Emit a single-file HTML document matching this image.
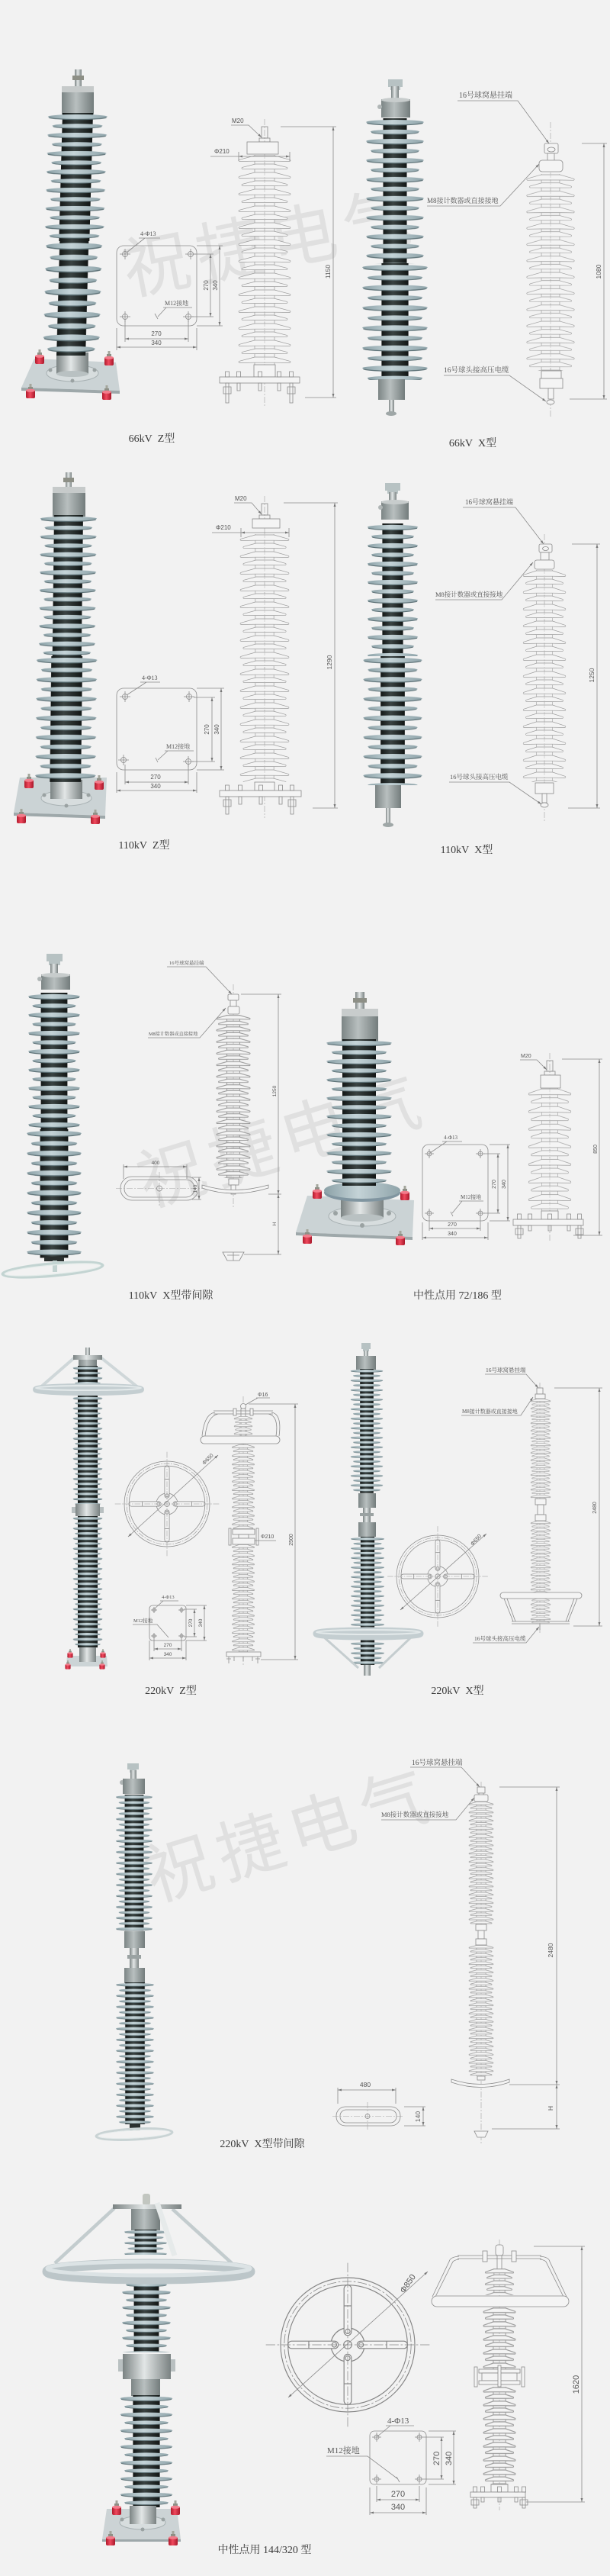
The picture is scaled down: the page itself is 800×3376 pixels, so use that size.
<!DOCTYPE html>
<html><head><meta charset="utf-8">
<style>
html,body{margin:0;padding:0;background:#f2f2f2;}
svg{display:block;}
.cap{font-family:"Liberation Serif","Noto Serif CJK SC",serif;font-size:14px;fill:#3a3a3a;text-anchor:middle;}
.dn{font-family:"Liberation Sans","Noto Sans CJK SC",sans-serif;fill:#555;}
.lb{font-family:"Liberation Serif","Noto Serif CJK SC",serif;fill:#555;}
.ln{fill:none;stroke:#8a8a8a;stroke-width:0.8;}
.lf{fill:#f4f4f4;stroke:#8a8a8a;stroke-width:0.8;}
.cl{fill:none;stroke:#a2a2a2;stroke-width:0.6;stroke-dasharray:8 2 2 2;}
.wm{font-family:"Noto Sans CJK SC","WenQuanYi Zen Hei",sans-serif;font-size:88px;fill:#e0e0e0;letter-spacing:10px;}
</style></head><body>
<svg width="800" height="3376" viewBox="0 0 800 3376" xmlns="http://www.w3.org/2000/svg">
<defs>
<linearGradient id="gc" x1="0" x2="1" y1="0" y2="0"><stop offset="0" stop-color="#131716"/><stop offset=".42" stop-color="#3a4342"/><stop offset="1" stop-color="#121615"/></linearGradient>
<linearGradient id="gs" x1="0" x2="1" y1="0" y2="0"><stop offset="0" stop-color="#8aa0a6"/><stop offset=".45" stop-color="#c4d3d7"/><stop offset="1" stop-color="#8ea3a9"/></linearGradient>
<linearGradient id="gm" x1="0" x2="1" y1="0" y2="0"><stop offset="0" stop-color="#7b8383"/><stop offset=".45" stop-color="#e2e6e6"/><stop offset="1" stop-color="#7a8282"/></linearGradient>
<linearGradient id="gg" x1="0" x2="1" y1="0" y2="0"><stop offset="0" stop-color="#7c8585"/><stop offset=".45" stop-color="#b8bfbf"/><stop offset="1" stop-color="#737c7c"/></linearGradient>
<linearGradient id="gr" x1="0" x2="1" y1="0" y2="0"><stop offset="0" stop-color="#b01a2c"/><stop offset=".45" stop-color="#f04a5e"/><stop offset="1" stop-color="#a8182a"/></linearGradient>
<marker id="ar" viewBox="0 0 10 10" refX="10" refY="5" markerWidth="5" markerHeight="5" orient="auto-start-reverse" markerUnits="userSpaceOnUse"><path d="M0,2L10,5L0,8z" fill="#777"/></marker>

<pattern id="pS" patternUnits="userSpaceOnUse" x="-50" y="0" width="100" height="24">
<rect x="30" y="0" width="40" height="24" fill="url(#gc)"/>
<ellipse cx="50" cy="6.2" rx="38" ry="2.9" fill="#5d7176"/>
<ellipse cx="50" cy="4.9" rx="39" ry="3" fill="url(#gs)"/>
<ellipse cx="50" cy="18" rx="32" ry="2.6" fill="#5d7176"/>
<ellipse cx="50" cy="16.9" rx="33" ry="2.7" fill="url(#gs)"/>
</pattern>
<pattern id="pN" patternUnits="userSpaceOnUse" x="-50" y="0" width="100" height="24">
<rect x="34" y="0" width="32" height="24" fill="url(#gc)"/>
<ellipse cx="50" cy="6.2" rx="38" ry="2.9" fill="#5d7176"/>
<ellipse cx="50" cy="4.9" rx="39" ry="3" fill="url(#gs)"/>
<ellipse cx="50" cy="18" rx="32" ry="2.6" fill="#5d7176"/>
<ellipse cx="50" cy="16.9" rx="33" ry="2.7" fill="url(#gs)"/>
</pattern>
<pattern id="pW" patternUnits="userSpaceOnUse" x="-50" y="0" width="100" height="24">
<rect x="30" y="0" width="40" height="24" fill="url(#gc)"/>
<ellipse cx="50" cy="6.4" rx="29" ry="2.8" fill="#5d7176"/>
<ellipse cx="50" cy="5" rx="30" ry="3" fill="url(#gs)"/>
<ellipse cx="50" cy="18.2" rx="25" ry="2.6" fill="#5d7176"/>
<ellipse cx="50" cy="17" rx="26" ry="2.8" fill="url(#gs)"/>
</pattern>
<pattern id="pD" patternUnits="userSpaceOnUse" x="-50" y="0" width="100" height="22">
<path d="M37,0V22M63,0V22" stroke="#9a9a9a" stroke-width="0.7" fill="none"/>
<path d="M37,1H63L83,6.3Q85,7.3 83,8.5L63,8.2H37L17,8.5Q15,7.3 17,6.3Z M38,12H62L79,16.3Q81,17.3 79,18.5L62,18.6H38L21,18.5Q19,17.3 21,16.3Z" fill="#f4f4f4" stroke="#9a9a9a" stroke-width="0.7"/>
<path d="M50,0V22" stroke="#b0b0b0" stroke-width="0.5" stroke-dasharray="5 2 1 2"/>
</pattern>
<pattern id="pE" patternUnits="userSpaceOnUse" x="-50" y="0" width="100" height="22">
<path d="M37,0V22M63,0V22" stroke="#9a9a9a" stroke-width="1.5" fill="none"/>
<path d="M37,1H63L83,6.3Q85,7.3 83,8.5L63,8.2H37L17,8.5Q15,7.3 17,6.3Z M38,12H62L79,16.3Q81,17.3 79,18.5L62,18.6H38L21,18.5Q19,17.3 21,16.3Z" fill="#f4f4f4" stroke="#9a9a9a" stroke-width="1.5"/>
</pattern>
<g id="ri">
<rect x="-1.5" y="-8" width="3" height="9" fill="#a4a69c"/>
<rect x="-3" y="-4" width="6" height="3" fill="#8d8f86"/>
<rect x="-6" y="0" width="12" height="11" rx="2" fill="url(#gr)"/>
<ellipse cx="0" cy="0.8" rx="6" ry="2" fill="#f27d8c"/>
</g>
<g id="spk"><rect x="14" y="-5.5" width="75" height="11" rx="5.5" fill="#f4f4f4"/><line x1="58" y1="-5.5" x2="58" y2="5.5"/><circle cx="20" r="3.5"/></g>
<g id="ringp" fill="none" stroke="#858585" stroke-width="1.3">
<circle r="100"/><circle r="89"/>
<circle r="94.5" stroke-width="0.9" stroke-dasharray="14 3 3 3"/>
<circle r="25"/>
<use href="#spk"/><use href="#spk" transform="rotate(90)"/><use href="#spk" transform="rotate(180)"/><use href="#spk" transform="rotate(270)"/>
<circle r="6"/>
<path d="M-122,0H122M0,-122V122" stroke-width="0.8" stroke-dasharray="14 3 3 3"/>
</g>
</defs>

<rect x="0" y="0" width="800" height="3376" fill="#f2f2f2"/>

<!-- watermarks -->
<text class="wm" transform="translate(168,386) rotate(-11)">祝捷电气</text>
<text class="wm" transform="translate(192,1582) rotate(-17)">祝捷电气</text>
<text class="wm" transform="translate(202,2492) rotate(-17)">祝捷电气</text>

<!-- ================= SECTION 1 ================= -->
<!-- P1 66kV Z photo -->
<polygon points="45,470 152,475 157,512 28,508" fill="#cbd3d5"/>
<polygon points="28,508 157,512 157,516 28,512" fill="#9ea8aa"/>
<ellipse cx="95" cy="489" rx="34" ry="11" fill="#d7ddde" stroke="#a7b0b2" stroke-width="1"/>
<rect x="74" y="462" width="42" height="28" fill="url(#gm)"/>
<ellipse cx="95" cy="490" rx="21" ry="4" fill="#b9c1c2"/>
<circle cx="66" cy="485" r="2.5" fill="#9aa2a2"/><circle cx="124" cy="485" r="2.5" fill="#9aa2a2"/><circle cx="95" cy="499" r="2.5" fill="#9aa2a2"/>
<rect x="98" y="91" width="9" height="22" fill="url(#gm)"/>
<rect x="95" y="99" width="15" height="6" fill="#8d8f86"/>
<rect x="81" y="113" width="42" height="37" fill="url(#gg)"/>
<rect x="81" y="113" width="42" height="8" fill="#c6caca"/>
<g transform="translate(102,148) skewX(-1.6)">
<rect x="-50" y="0" width="100" height="168" fill="url(#pS)"/>
<g transform="translate(0,168) scale(0.95,1.25)"><rect x="-50" y="0" width="100" height="120" fill="url(#pS)"/></g>
</g>
<use href="#ri" x="52" y="466"/><use href="#ri" x="143" y="468"/><use href="#ri" x="40" y="511"/><use href="#ri" x="140" y="513"/>

<!-- D1 66kV Z drawing -->
<line class="cl" x1="347" y1="156" x2="347" y2="534"/>
<rect class="ln" x="343" y="166" width="8" height="15"/>
<rect class="ln" x="340" y="181" width="14" height="5"/>
<rect class="lf" x="324" y="186" width="41" height="16"/>
<g transform="translate(347,203)"><rect x="-50" y="0" width="100" height="275" fill="url(#pD)"/></g>
<rect class="lf" x="333" y="478" width="28" height="16"/>
<rect class="lf" x="288" y="494" width="105" height="8"/>
<path class="ln" d="M295.5,487h5v7h-5z M310.5,487h5v7h-5z M338.5,487h5v7h-5z M363.5,487h5v7h-5z M379.5,487h5v7h-5z M296,502h4v26h-4z M293,507h10v9h-10z M380,502h4v26h-4z M377,507h10v9h-10z M311,502h4v10h-4z M339,502h4v10h-4z M364,502h4v10h-4z"/>
<path class="ln" d="M276,205H313 M313,199V211 M380,199V211"/>
<line class="ln" x1="313" y1="205" x2="380" y2="205" marker-start="url(#ar)" marker-end="url(#ar)"/>
<text class="dn" font-size="8" x="281" y="201">Φ210</text>
<text class="dn" font-size="8" x="304" y="161">M20</text>
<path class="ln" d="M303,164H326L343,180" marker-end="url(#ar)"/>
<path class="ln" d="M368,166H441 M400,521H441"/>
<line class="ln" x1="437" y1="166" x2="437" y2="521" marker-start="url(#ar)" marker-end="url(#ar)"/>
<text class="dn" font-size="8.5" transform="translate(433,356) rotate(-90)" text-anchor="middle">1150</text>

<!-- BP1 66kV base plan -->
<rect class="ln" x="153" y="322" width="105" height="105" rx="9"/>
<g class="ln"><circle cx="164" cy="333" r="3.5"/><circle cx="250" cy="333" r="3.5"/><circle cx="164" cy="415" r="3.5"/><circle cx="247" cy="415" r="3.5"/></g>
<path class="ln" stroke-width="0.5" d="M157,333h14M164,326v14 M243,333h14M250,326v14 M157,415h14M164,408v14 M240,415h14M247,408v14"/>
<path class="ln" d="M203,411l4,7"/>
<path class="ln" d="M254,333H280 M252,415H280 M258,322H292 M258,427H292 M164,420V448 M247,420V448 M153,430V459 M258,430V459"/>
<line class="ln" x1="276" y1="333" x2="276" y2="415" marker-start="url(#ar)" marker-end="url(#ar)"/>
<line class="ln" x1="288" y1="322" x2="288" y2="427" marker-start="url(#ar)" marker-end="url(#ar)"/>
<line class="ln" x1="164" y1="444" x2="247" y2="444" marker-start="url(#ar)" marker-end="url(#ar)"/>
<line class="ln" x1="153" y1="455" x2="258" y2="455" marker-start="url(#ar)" marker-end="url(#ar)"/>
<text class="dn" font-size="8" x="205" y="440" text-anchor="middle">270</text>
<text class="dn" font-size="8" x="205" y="452" text-anchor="middle">340</text>
<text class="dn" font-size="8" transform="translate(273,374) rotate(-90)" text-anchor="middle">270</text>
<text class="dn" font-size="8" transform="translate(285,374) rotate(-90)" text-anchor="middle">340</text>
<text class="lb" font-size="8" x="184" y="309">4-Φ13</text>
<path class="ln" d="M182,312H210 M190,312L166,331" />
<text class="lb" font-size="8" x="216" y="400">M12接地</text>
<path class="ln" d="M214,403H252 M218,403L207,415"/>

<!-- P2 66kV X photo -->
<path d="M509,104h19v10h-3v4h-13v-4h-3z" fill="#b7c2c3"/>
<rect x="513" y="113" width="10" height="18" fill="url(#gm)"/>
<rect x="500" y="130" width="38" height="24" fill="url(#gg)"/>
<ellipse cx="519" cy="131" rx="19" ry="3" fill="#c7cccc"/>
<circle cx="498" cy="140" r="3" fill="#b0b6b6"/>
<g transform="translate(518,155) scale(0.97,1.04)"><rect x="-50" y="0" width="100" height="183" fill="url(#pN)"/></g>
<g transform="translate(518,345) scale(1.1,1.1)"><rect x="-50" y="0" width="100" height="139" fill="url(#pN)"/></g>
<rect x="496" y="497" width="35" height="27" fill="url(#gg)"/>
<rect x="510" y="524" width="7" height="16" fill="url(#gm)"/>
<ellipse cx="513" cy="542" rx="7" ry="3" fill="#9fa7a7"/>

<!-- D2 66kV X drawing -->
<line class="cl" x1="722" y1="160" x2="722" y2="548"/>
<rect class="lf" x="714" y="188" width="18" height="13" rx="2"/>
<ellipse class="ln" cx="723" cy="196" rx="5" ry="3"/>
<rect class="lf" x="718" y="201" width="9" height="10"/>
<rect class="lf" x="707" y="210" width="31" height="15" rx="4"/>
<g transform="translate(722,228) scale(0.92,0.97)"><rect x="-50" y="0" width="100" height="266" fill="url(#pD)"/></g>
<rect class="lf" x="710" y="486" width="26" height="10"/>
<rect class="lf" x="708" y="496" width="30" height="13"/>
<rect class="lf" x="719" y="509" width="7" height="14"/>
<ellipse class="lf" cx="722" cy="527" rx="5" ry="3"/>
<path class="ln" d="M763,188H796 M747,523H796"/>
<line class="ln" x1="792" y1="188" x2="792" y2="523" marker-start="url(#ar)" marker-end="url(#ar)"/>
<text class="dn" font-size="8.5" transform="translate(788,356) rotate(-90)" text-anchor="middle">1080</text>
<text class="lb" font-size="10" x="602" y="128">16号球窝悬挂端</text>
<path class="ln" d="M600,132H679L720,188" marker-end="url(#ar)"/>
<text class="lb" font-size="9" x="560" y="266">M8接计数器或直接接地</text>
<path class="ln" d="M560,270H656L707,215" marker-end="url(#ar)"/>
<text class="lb" font-size="9.5" x="582" y="488">16号球头接高压电缆</text>
<path class="ln" d="M582,492H668L716,526" marker-end="url(#ar)"/>

<text class="cap" x="199" y="579">66kV&#160;&#160;Z型</text>
<text class="cap" x="620" y="585">66kV&#160;&#160;X型</text>

<!-- ================= SECTION 2 ================= -->
<!-- P3 110kV Z photo -->
<polygon points="26,1019 140,1019 138,1069 18,1065" fill="#cbd3d5"/>
<polygon points="18,1065 138,1069 138,1073 18,1069" fill="#9ea8aa"/>
<ellipse cx="87" cy="1046" rx="33" ry="10" fill="#d7ddde" stroke="#a7b0b2" stroke-width="1"/>
<rect x="66" y="1022" width="42" height="25" fill="url(#gm)"/>
<circle cx="58" cy="1042" r="2.5" fill="#9aa2a2"/><circle cx="116" cy="1042" r="2.5" fill="#9aa2a2"/><circle cx="87" cy="1056" r="2.5" fill="#9aa2a2"/>
<rect x="86" y="619" width="8" height="20" fill="url(#gm)"/>
<rect x="83" y="626" width="14" height="6" fill="#8d8f86"/>
<rect x="69" y="638" width="43" height="39" fill="url(#gg)"/>
<rect x="69" y="638" width="43" height="8" fill="#c6caca"/>
<g transform="translate(90,675) skewX(-0.7)">
<g transform="scale(0.95,0.975)"><rect x="-50" y="0" width="100" height="190" fill="url(#pS)"/></g>
<g transform="translate(0,185) scale(1.02,1.05)"><rect x="-50" y="0" width="100" height="157" fill="url(#pS)"/></g>
</g>
<use href="#ri" x="38" y="1022"/><use href="#ri" x="130" y="1024"/><use href="#ri" x="28" y="1068"/><use href="#ri" x="125" y="1069"/>

<!-- D4 110kV Z drawing -->
<line class="cl" x1="347" y1="650" x2="347" y2="1072"/>
<rect class="ln" x="343" y="660" width="8" height="15"/>
<rect class="ln" x="340" y="675" width="14" height="5"/>
<rect class="lf" x="331" y="680" width="36" height="12"/>
<g transform="translate(347,700) scale(0.94,1)"><rect x="-50" y="0" width="100" height="325" fill="url(#pD)"/></g>
<rect class="lf" x="334" y="1025" width="26" height="11"/>
<rect class="lf" x="288" y="1036" width="107" height="8"/>
<path class="ln" d="M295.5,1029h5v7h-5z M312.5,1029h5v7h-5z M339.5,1029h5v7h-5z M365.5,1029h5v7h-5z M380.5,1029h5v7h-5z M296,1044h4v23h-4z M293,1048h10v9h-10z M381,1044h4v23h-4z M378,1048h10v9h-10z M313,1044h4v10h-4z M340,1044h4v10h-4z M366,1044h4v10h-4z"/>
<path class="ln" d="M278,698H316 M316,692V704 M379,692V704"/>
<line class="ln" x1="316" y1="698" x2="379" y2="698" marker-start="url(#ar)" marker-end="url(#ar)"/>
<text class="dn" font-size="8" x="283" y="694">Φ210</text>
<text class="dn" font-size="8" x="308" y="656">M20</text>
<path class="ln" d="M307,659H330L343,674" marker-end="url(#ar)"/>
<path class="ln" d="M372,659H443 M410,1059H443"/>
<line class="ln" x1="439" y1="659" x2="439" y2="1059" marker-start="url(#ar)" marker-end="url(#ar)"/>
<text class="dn" font-size="8.5" transform="translate(435,868) rotate(-90)" text-anchor="middle">1290</text>

<!-- BP2 110kV base plan -->
<g transform="translate(0,580)">
<rect class="ln" x="153" y="322" width="105" height="107" rx="9"/>
<g class="ln"><circle cx="164" cy="333" r="3.5"/><circle cx="248" cy="333" r="3.5"/><circle cx="162" cy="416" r="3.5"/><circle cx="247" cy="418" r="3.5"/></g>
<path class="ln" stroke-width="0.5" d="M157,333h14M164,326v14 M241,333h14M248,326v14 M155,416h14M162,409v14 M240,418h14M247,411v14"/>
<path class="ln" d="M204,413l3,6"/>
<path class="ln" d="M254,334H282 M252,418H282 M258,322H294 M258,429H294 M164,422V448 M247,422V448 M153,432V459 M258,432V459"/>
<line class="ln" x1="278" y1="334" x2="278" y2="418" marker-start="url(#ar)" marker-end="url(#ar)"/>
<line class="ln" x1="290" y1="322" x2="290" y2="429" marker-start="url(#ar)" marker-end="url(#ar)"/>
<line class="ln" x1="164" y1="445" x2="247" y2="445" marker-start="url(#ar)" marker-end="url(#ar)"/>
<line class="ln" x1="153" y1="456" x2="258" y2="456" marker-start="url(#ar)" marker-end="url(#ar)"/>
<text class="dn" font-size="8" x="204" y="441" text-anchor="middle">270</text>
<text class="dn" font-size="8" x="204" y="453" text-anchor="middle">340</text>
<text class="dn" font-size="8" transform="translate(274,376) rotate(-90)" text-anchor="middle">270</text>
<text class="dn" font-size="8" transform="translate(287,376) rotate(-90)" text-anchor="middle">340</text>
<text class="lb" font-size="8" x="186" y="311">4-Φ13</text>
<path class="ln" d="M184,314H210 M192,314L166,331"/>
<text class="lb" font-size="8" x="218" y="401">M12接地</text>
<path class="ln" d="M216,404H254 M220,404L207,416"/>
</g>

<!-- P4 110kV X photo -->
<path d="M505,633h20v10h-3v4h-14v-4h-3z" fill="#b7c2c3"/>
<rect x="510" y="645" width="10" height="13" fill="url(#gm)"/>
<rect x="500" y="657" width="36" height="24" fill="url(#gg)"/>
<ellipse cx="518" cy="658" rx="18" ry="3" fill="#c7cccc"/>
<circle cx="499" cy="665" r="3" fill="#b0b6b6"/>
<g transform="translate(515,686) scale(0.85,1)"><rect x="-50" y="0" width="100" height="174" fill="url(#pN)"/></g>
<g transform="translate(515,860) scale(0.99,1.05)"><rect x="-50" y="0" width="100" height="161" fill="url(#pN)"/></g>
<rect x="492" y="1029" width="34" height="30" fill="url(#gg)"/>
<rect x="506" y="1059" width="6" height="20" fill="url(#gm)"/>
<ellipse cx="509" cy="1081" rx="7" ry="3" fill="#9fa7a7"/>

<!-- D6 110kV X drawing -->
<line class="cl" x1="714" y1="700" x2="714" y2="1078"/>
<rect class="lf" x="707" y="713" width="17" height="11" rx="2"/>
<ellipse class="ln" cx="715.5" cy="719" rx="4" ry="2.5"/>
<rect class="lf" x="709" y="724" width="11" height="10"/>
<rect class="lf" x="701" y="734" width="26" height="12" rx="3"/>
<g transform="translate(714,747) scale(0.82,1)"><rect x="-50" y="0" width="100" height="278" fill="url(#pD)"/></g>
<rect class="lf" x="702" y="1026" width="24" height="14"/>
<rect class="lf" x="711" y="1040" width="6" height="12"/>
<ellipse class="lf" cx="714" cy="1055" rx="5" ry="3"/>
<path class="ln" d="M750,713H787 M745,1059H787"/>
<line class="ln" x1="783" y1="713" x2="783" y2="1059" marker-start="url(#ar)" marker-end="url(#ar)"/>
<text class="dn" font-size="8.5" transform="translate(779,885) rotate(-90)" text-anchor="middle">1250</text>
<text class="lb" font-size="9" x="610" y="661">16号球窝悬挂端</text>
<path class="ln" d="M607,665H676L713,713" marker-end="url(#ar)"/>
<text class="lb" font-size="8.5" x="571" y="782">M8接计数器或直接接地</text>
<path class="ln" d="M571,786H658L699,737" marker-end="url(#ar)"/>
<text class="lb" font-size="8.5" x="590" y="1021">16号球头接高压电缆</text>
<path class="ln" d="M589,1025H668L710,1054" marker-end="url(#ar)"/>

<text class="cap" x="189" y="1112">110kV&#160;&#160;Z型</text>
<text class="cap" x="612" y="1118">110kV&#160;&#160;X型</text>

<!-- ================= SECTION 3 ================= -->
<!-- P5 110kV X gap photo -->
<path d="M61,1250h21v10h-3v5h-15v-5h-3z" fill="#b7c2c3"/>
<rect x="66" y="1263" width="10" height="15" fill="url(#gm)"/>
<rect x="54" y="1277" width="38" height="20" fill="url(#gg)"/>
<ellipse cx="73" cy="1278" rx="19" ry="3" fill="#c7cccc"/>
<circle cx="52" cy="1283" r="3" fill="#b0b6b6"/>
<g transform="translate(71,1301) scale(0.87,1)"><rect x="-50" y="0" width="100" height="179" fill="url(#pS)"/></g>
<g transform="translate(71,1480) scale(0.92,1.08)"><rect x="-50" y="0" width="100" height="156" fill="url(#pS)"/></g>
<rect x="58" y="1647" width="26" height="6" fill="#2a302f"/>
<rect x="69" y="1652" width="6" height="15" fill="#c3d3d1"/>
<ellipse cx="69" cy="1664" rx="66" ry="8" transform="rotate(-5 69 1664)" fill="none" stroke="#c3d4d2" stroke-width="3.5"/>
<ellipse cx="69" cy="1664" rx="63" ry="6" transform="rotate(-5 69 1664)" fill="none" stroke="#e4ecea" stroke-width="1.2"/>

<!-- D7 110kV X gap drawing -->
<line class="cl" x1="306" y1="1290" x2="306" y2="1582"/>
<rect class="lf" x="299" y="1303" width="14" height="8" rx="1.5"/>
<rect class="lf" x="302" y="1311" width="8" height="8"/>
<rect class="lf" x="299" y="1319" width="15" height="10" rx="2"/>
<g transform="translate(306,1330) scale(0.65,0.69)"><rect x="-50" y="0" width="100" height="310" fill="url(#pE)"/></g>
<rect class="lf" x="300" y="1545" width="13" height="8"/>
<rect class="lf" x="303" y="1553" width="6" height="12"/>
<path class="lf" d="M265,1553Q306,1566 352,1553L352,1557Q306,1571 265,1557Z"/>
<path class="lf" d="M292,1641H320L314,1652H298Z"/>
<path class="ln" d="M298,1645H314 M306,1641V1652"/>
<path class="ln" d="M316,1303H369 M352,1565H369 M320,1644H369"/>
<line class="ln" x1="365" y1="1303" x2="365" y2="1565" marker-start="url(#ar)" marker-end="url(#ar)"/>
<line class="ln" x1="365" y1="1565" x2="365" y2="1644" marker-start="url(#ar)" marker-end="url(#ar)"/>
<text class="dn" font-size="6.5" transform="translate(362,1430) rotate(-90)" text-anchor="middle">1250</text>
<text class="dn" font-size="6.5" transform="translate(362,1604) rotate(-90)" text-anchor="middle">H</text>
<text class="lb" font-size="6.5" x="222" y="1264">16号球窝悬挂端</text>
<path class="ln" d="M219,1267H270L304,1303" marker-end="url(#ar)"/>
<text class="lb" font-size="6.2" x="195" y="1357">M8接计数器或直接接地</text>
<path class="ln" d="M194,1360H262L296,1321" marker-end="url(#ar)"/>
<rect class="ln" x="158" y="1542" width="102" height="31" rx="15"/>
<rect class="ln" x="163" y="1546" width="92" height="23" rx="11"/>
<path class="cl" d="M152,1557.5H266 M209,1536V1580"/>
<circle class="ln" cx="209" cy="1557.5" r="3.5"/>
<path class="ln" d="M162,1526V1545 M245,1526V1545 M252,1543H264 M252,1572H264"/>
<line class="ln" x1="162" y1="1529" x2="245" y2="1529" marker-start="url(#ar)" marker-end="url(#ar)"/>
<line class="ln" x1="261" y1="1543" x2="261" y2="1572" marker-start="url(#ar)" marker-end="url(#ar)"/>
<text class="dn" font-size="6.5" x="204" y="1526" text-anchor="middle">400</text>
<text class="dn" font-size="6.5" transform="translate(258,1558) rotate(-90)" text-anchor="middle">140</text>

<!-- P6 72/186 photo -->
<polygon points="403,1567 543,1573 541,1621 388,1615" fill="#cbd3d5"/>
<polygon points="388,1615 541,1621 541,1625 388,1619" fill="#9ea8aa"/>
<ellipse cx="475" cy="1594" rx="44" ry="13" fill="#d7ddde" stroke="#a7b0b2" stroke-width="1"/>
<rect x="447" y="1564" width="56" height="32" fill="url(#gm)"/>
<ellipse cx="475" cy="1596" rx="28" ry="5" fill="#b9c1c2"/>
<circle cx="440" cy="1590" r="3" fill="#9aa2a2"/><circle cx="510" cy="1590" r="3" fill="#9aa2a2"/><circle cx="475" cy="1606" r="3" fill="#9aa2a2"/>
<ellipse cx="475" cy="1563" rx="50" ry="12" fill="#8095a0"/>
<ellipse cx="475" cy="1560" rx="50" ry="11" fill="url(#gs)"/>
<rect x="466" y="1300" width="12" height="22" fill="url(#gm)"/>
<rect x="463" y="1308" width="18" height="6" fill="#8d8f86"/>
<rect x="448" y="1322" width="48" height="44" fill="url(#gg)"/>
<rect x="448" y="1322" width="48" height="10" fill="#c8cccc"/>
<g transform="translate(471,1362) scale(1.1,1.0)"><rect x="-50" y="0" width="100" height="192" fill="url(#pS)"/></g>
<use href="#ri" x="416" y="1560"/><use href="#ri" x="531" y="1562"/><use href="#ri" x="403" y="1619"/><use href="#ri" x="525" y="1621"/>

<!-- BP3 72/186 base plan -->
<rect class="ln" x="554" y="1500" width="86" height="100" rx="8"/>
<g class="ln"><circle cx="563" cy="1512" r="3"/><circle cx="630" cy="1512" r="3"/><circle cx="563" cy="1590" r="3"/><circle cx="630" cy="1590" r="3"/></g>
<path class="ln" stroke-width="0.5" d="M557,1512h12M563,1506v12 M624,1512h12M630,1506v12 M557,1590h12M563,1584v12 M624,1590h12M630,1584v12"/>
<path class="ln" d="M591,1588l3,6"/>
<path class="ln" d="M635,1512H656 M635,1590H656 M642,1500H669 M642,1600H669 M563,1595V1613 M630,1595V1613 M554,1602V1625 M640,1602V1625"/>
<line class="ln" x1="653" y1="1512" x2="653" y2="1590" marker-start="url(#ar)" marker-end="url(#ar)"/>
<line class="ln" x1="666" y1="1500" x2="666" y2="1600" marker-start="url(#ar)" marker-end="url(#ar)"/>
<line class="ln" x1="563" y1="1610" x2="630" y2="1610" marker-start="url(#ar)" marker-end="url(#ar)"/>
<line class="ln" x1="554" y1="1622" x2="640" y2="1622" marker-start="url(#ar)" marker-end="url(#ar)"/>
<text class="dn" font-size="7" x="593" y="1607" text-anchor="middle">270</text>
<text class="dn" font-size="7" x="593" y="1619" text-anchor="middle">340</text>
<text class="dn" font-size="7" transform="translate(650,1552) rotate(-90)" text-anchor="middle">270</text>
<text class="dn" font-size="7" transform="translate(663,1552) rotate(-90)" text-anchor="middle">340</text>
<text class="lb" font-size="7" x="582" y="1493">4-Φ13</text>
<path class="ln" d="M580,1496H606 M586,1496L564,1511"/>
<text class="lb" font-size="7" x="604" y="1571">M12接地</text>
<path class="ln" d="M602,1574H634 M606,1574L593,1590"/>

<!-- D9 72/186 drawing -->
<line class="cl" x1="721" y1="1380" x2="721" y2="1628"/>
<rect class="ln" x="717" y="1390" width="8" height="14"/>
<rect class="ln" x="714" y="1404" width="14" height="5"/>
<rect class="lf" x="709" y="1409" width="26" height="17"/>
<g transform="translate(721,1426) scale(0.82,1.05)"><rect x="-50" y="0" width="100" height="153" fill="url(#pD)"/></g>
<rect class="lf" x="710" y="1587" width="22" height="11"/>
<rect class="lf" x="673" y="1598" width="92" height="8"/>
<path class="ln" d="M678.5,1591h5v7h-5z M692.5,1591h5v7h-5z M718.5,1591h5v7h-5z M743.5,1591h5v7h-5z M757.5,1591h5v7h-5z M679,1606h4v17h-4z M676,1610h10v8h-10z M758,1606h4v17h-4z M755,1610h10v8h-10z M693,1606h4v7h-4z M719,1606h4v7h-4z M744,1606h4v7h-4z"/>
<text class="dn" font-size="7" x="683" y="1386">M20</text>
<path class="ln" d="M682,1389H704L717,1402" marker-end="url(#ar)"/>
<path class="ln" d="M737,1388H790 M752,1619H790"/>
<line class="ln" x1="786" y1="1388" x2="786" y2="1619" marker-start="url(#ar)" marker-end="url(#ar)"/>
<text class="dn" font-size="7" transform="translate(783,1506) rotate(-90)" text-anchor="middle">850</text>

<text class="cap" x="224" y="1702">110kV&#160;&#160;X型带间隙</text>
<text class="cap" x="600" y="1702">中性点用 72/186 型</text>

<!-- ================= SECTION 4 ================= -->
<!-- P7 220kV Z photo -->
<path d="M98,1779L52,1819 M132,1779L182,1819" stroke="#cfd7d9" stroke-width="4" fill="none"/>
<rect x="112" y="1766" width="6" height="12" fill="url(#gm)"/>
<rect x="96" y="1776" width="38" height="6" fill="url(#gm)"/>
<rect x="103" y="1782" width="24" height="10" fill="url(#gg)"/>
<g transform="translate(115,1790) scale(0.65,0.55)"><rect x="-50" y="0" width="100" height="331" fill="url(#pW)"/></g>
<ellipse cx="116" cy="1821" rx="69" ry="4" fill="none" stroke="#c4ced1" stroke-width="8"/>
<ellipse cx="116" cy="1819" rx="69" ry="3" fill="none" stroke="#e3e9ea" stroke-width="2"/>
<rect x="94" y="1975" width="42" height="8" fill="#b8bfc0"/>
<rect x="99" y="1971" width="32" height="16" fill="url(#gm)"/>
<g transform="translate(115,1987) scale(0.65,0.55)"><rect x="-50" y="0" width="100" height="313" fill="url(#pW)"/></g>
<polygon points="88,2170 140,2170 141,2184 87,2184" fill="#ccd4d6"/>
<rect x="104" y="2159" width="22" height="19" fill="url(#gm)"/>
<use href="#ri" transform="translate(92,2166) scale(0.6)"/><use href="#ri" transform="translate(135,2166) scale(0.6)"/>
<use href="#ri" transform="translate(89,2181) scale(0.6)"/><use href="#ri" transform="translate(134,2181) scale(0.6)"/>

<!-- D10 220kV Z drawing -->
<line class="cl" x1="319" y1="1830" x2="319" y2="2182"/>
<circle class="lf" cx="319" cy="1843" r="3.5"/>
<rect class="lf" x="316" y="1846" width="6" height="46"/>
<g transform="translate(319,1856) scale(0.35,0.45)"><rect x="-50" y="0" width="100" height="56" fill="url(#pE)"/></g>
<path class="ln" d="M280,1849H358 M280,1853H358 M282,1851Q268,1853 265,1882 M286,1853Q272,1856 269,1882 M356,1851Q370,1853 366,1882 M352,1853Q366,1856 362,1882"/>
<rect class="lf" x="306" y="1846" width="4" height="9"/><rect class="lf" x="328" y="1846" width="4" height="9"/>
<rect class="lf" x="263" y="1882" width="104" height="10" rx="5"/>
<g transform="translate(319,1893) scale(0.43,0.51)"><rect x="-50" y="0" width="100" height="218" fill="url(#pE)"/></g>
<rect class="lf" x="305" y="2004" width="29" height="7"/>
<rect class="lf" x="313" y="2011" width="13" height="5"/>
<rect class="lf" x="305" y="2016" width="29" height="8"/>
<rect class="lf" x="300" y="2003" width="3" height="22"/><rect class="lf" x="336" y="2003" width="3" height="22"/>
<g transform="translate(319,2024) scale(0.43,0.51)"><rect x="-50" y="0" width="100" height="277" fill="url(#pE)"/></g>
<rect class="lf" x="297" y="2165" width="45" height="6"/>
<path class="ln" d="M300,2171V2180 M307,2171V2177 M319,2171V2177 M331,2171V2177 M338,2171V2180 M297,2174h6 M335,2174h6"/>
<text class="dn" font-size="7" x="338" y="1830">Φ16</text>
<path class="ln" d="M336,1832H354 M338,1832L322,1841"/>
<text class="dn" font-size="7" x="342" y="2016">Φ210</text>
<path class="ln" d="M334,2019H362"/>
<path class="ln" d="M326,1840H391 M342,2175H391"/>
<line class="ln" x1="387" y1="1840" x2="387" y2="2175" marker-start="url(#ar)" marker-end="url(#ar)"/>
<text class="dn" font-size="7" transform="translate(384,2018) rotate(-90)" text-anchor="middle">2500</text>

<!-- D11 ring plan 220 Z -->
<use href="#ringp" transform="translate(219,1971) scale(0.56)"/>
<line class="ln" x1="168" y1="2014" x2="286" y2="1907" marker-start="url(#ar)" marker-end="url(#ar)"/>
<text class="dn" font-size="7" transform="translate(268,1920) rotate(-45)">Φ650</text>

<!-- BP4 220 Z base plan -->
<rect class="ln" x="196" y="2104" width="48" height="46" rx="4"/>
<g class="ln"><circle cx="202" cy="2110" r="2"/><circle cx="238" cy="2110" r="2"/><circle cx="202" cy="2144" r="2"/><circle cx="238" cy="2144" r="2"/></g>
<path class="ln" stroke-width="0.5" d="M198,2110h8M202,2106v8 M234,2110h8M238,2106v8 M198,2144h8M202,2140v8 M234,2144h8M238,2140v8"/>
<path class="ln" d="M241,2109H258 M241,2145H258 M244,2104H271 M244,2150H271 M202,2148V2164 M238,2148V2164 M196,2150V2176 M244,2150V2176"/>
<line class="ln" x1="255" y1="2109" x2="255" y2="2145" marker-start="url(#ar)" marker-end="url(#ar)"/>
<line class="ln" x1="268" y1="2104" x2="268" y2="2150" marker-start="url(#ar)" marker-end="url(#ar)"/>
<line class="ln" x1="202" y1="2161" x2="238" y2="2161" marker-start="url(#ar)" marker-end="url(#ar)"/>
<line class="ln" x1="196" y1="2173" x2="244" y2="2173" marker-start="url(#ar)" marker-end="url(#ar)"/>
<text class="dn" font-size="6.5" x="220" y="2158" text-anchor="middle">270</text>
<text class="dn" font-size="6.5" x="220" y="2170" text-anchor="middle">340</text>
<text class="dn" font-size="6.5" transform="translate(252,2127) rotate(-90)" text-anchor="middle">270</text>
<text class="dn" font-size="6.5" transform="translate(265,2127) rotate(-90)" text-anchor="middle">340</text>
<text class="lb" font-size="6.5" x="212" y="2095">4-Φ13</text>
<path class="ln" d="M210,2098H234 M214,2098L203,2108"/>
<text class="lb" font-size="6.5" x="175" y="2126">M12接地</text>
<path class="ln" d="M174,2129H206L221,2146"/>

<!-- P8 220kV X photo -->
<path d="M474,1760h12v8h-2v3h-8v-3h-2z" fill="#b7c2c3"/>
<rect x="477" y="1770" width="6" height="8" fill="url(#gm)"/>
<rect x="467" y="1777" width="26" height="18" fill="url(#gg)"/>
<g transform="translate(481,1794) scale(0.55,0.52)"><rect x="-50" y="0" width="100" height="313" fill="url(#pN)"/></g>
<rect x="470" y="1957" width="23" height="19" fill="url(#gg)"/>
<rect x="476" y="1976" width="10" height="19" fill="url(#gm)"/>
<rect x="472" y="1983" width="18" height="4" fill="#9aa2a2"/>
<rect x="470" y="1995" width="23" height="19" fill="url(#gg)"/>
<g transform="translate(482,2014) scale(0.57,0.52)"><rect x="-50" y="0" width="100" height="323" fill="url(#pN)"/></g>
<path d="M423,2144L470,2186 M541,2144L497,2186" stroke="#c5cdcf" stroke-width="3" fill="none"/>
<ellipse cx="483" cy="2141" rx="68" ry="4" fill="none" stroke="#c4ced1" stroke-width="9"/>
<ellipse cx="483" cy="2139" rx="68" ry="3" fill="none" stroke="#e3e9ea" stroke-width="2"/>
<rect x="477" y="2182" width="9" height="14" fill="url(#gm)"/>

<!-- D13 ring plan 220 X -->
<use href="#ringp" transform="translate(574,2066) scale(0.54)"/>
<line class="ln" x1="525" y1="2110" x2="638" y2="2010" marker-start="url(#ar)" marker-end="url(#ar)"/>
<text class="dn" font-size="7" transform="translate(620,2026) rotate(-48)">Φ650</text>

<!-- D14 220 X drawing -->
<line class="cl" x1="708" y1="1812" x2="708" y2="2140"/>
<rect class="lf" x="704" y="1819" width="8" height="8"/>
<rect class="lf" x="702" y="1827" width="13" height="6"/>
<g transform="translate(709,1833) scale(0.38,0.44)"><rect x="-50" y="0" width="100" height="298" fill="url(#pE)"/></g>
<rect class="lf" x="702" y="1964" width="14" height="8"/>
<rect class="lf" x="705" y="1972" width="8" height="13"/>
<rect class="lf" x="702" y="1985" width="14" height="8"/>
<g transform="translate(709,1993) scale(0.38,0.44)"><rect x="-50" y="0" width="100" height="305" fill="url(#pE)"/></g>
<path class="ln" d="M661,2095L673,2125 M665,2095L676,2125 M757,2095L745,2125 M753,2095L742,2125 M671,2125H747 M671,2128H747 M708,2128V2136"/>
<rect class="lf" x="656" y="2087" width="107" height="8" rx="4"/>
<path class="ln" d="M727,1819H790 M752,2131H790"/>
<line class="ln" x1="786" y1="1819" x2="786" y2="2131" marker-start="url(#ar)" marker-end="url(#ar)"/>
<text class="dn" font-size="7" transform="translate(782,1976) rotate(-90)" text-anchor="middle">2480</text>
<text class="lb" font-size="7.5" x="637" y="1798">16号球窝悬挂端</text>
<path class="ln" d="M636,1801H690L706,1819" marker-end="url(#ar)"/>
<text class="lb" font-size="7" x="606" y="1852">M8接计数器或直接接地</text>
<path class="ln" d="M605,1855H683L699,1831" marker-end="url(#ar)"/>
<text class="lb" font-size="7.5" x="622" y="2150">16号球头接高压电缆</text>
<path class="ln" d="M620,2153H690L707,2132" marker-end="url(#ar)"/>

<text class="cap" x="224" y="2220">220kV&#160;&#160;Z型</text>
<text class="cap" x="600" y="2220">220kV&#160;&#160;X型</text>

<!-- ================= SECTION 5 ================= -->
<!-- P9 220kV X gap photo -->
<path d="M167,2311h15v8h-3v4h-9v-4h-3z" fill="#b7c2c3"/>
<rect x="171" y="2320" width="8" height="12" fill="url(#gm)"/>
<circle cx="160" cy="2336" r="3" fill="#b0b6b6"/>
<rect x="161" y="2331" width="29" height="20" fill="url(#gg)"/>
<g transform="translate(176,2352) scale(0.62,0.6)"><rect x="-50" y="0" width="100" height="297" fill="url(#pS)"/></g>
<rect x="163" y="2531" width="27" height="22" fill="url(#gg)"/>
<rect x="170" y="2553" width="12" height="26" fill="url(#gm)"/>
<rect x="167" y="2562" width="18" height="5" fill="#9aa2a2"/>
<rect x="163" y="2579" width="27" height="20" fill="url(#gg)"/>
<g transform="translate(177,2598) scale(0.64,0.6)"><rect x="-50" y="0" width="100" height="310" fill="url(#pS)"/></g>
<rect x="170" y="2783" width="14" height="9" fill="#2a302f"/>
<ellipse cx="176" cy="2797" rx="50" ry="7" transform="rotate(-3 176 2797)" fill="none" stroke="#c9d3d4" stroke-width="3"/>
<ellipse cx="176" cy="2797" rx="47" ry="5" transform="rotate(-3 176 2797)" fill="none" stroke="#e6ecec" stroke-width="1"/>

<!-- D15 220 X gap drawing -->
<line class="cl" x1="631" y1="2335" x2="631" y2="2810"/>
<rect class="lf" x="626" y="2342" width="10" height="8"/>
<rect class="lf" x="628" y="2350" width="6" height="3"/>
<rect class="lf" x="622" y="2352" width="18" height="9" rx="2"/>
<g transform="translate(631,2361) scale(0.47,0.49)"><rect x="-50" y="0" width="100" height="329" fill="url(#pE)"/></g>
<rect class="lf" x="624" y="2522" width="14" height="8"/>
<rect class="lf" x="627" y="2530" width="8" height="11"/>
<rect class="lf" x="624" y="2541" width="14" height="8"/>
<g transform="translate(631,2549) scale(0.47,0.49)"><rect x="-50" y="0" width="100" height="351" fill="url(#pE)"/></g>
<rect class="lf" x="626" y="2721" width="10" height="5"/>
<path class="lf" d="M592,2725Q631,2738 668,2725L668,2729Q631,2742 592,2729Z"/>
<path class="lf" d="M622,2793H640L636,2801H626Z"/>
<path class="ln" d="M655,2342H734 M668,2732H734 M645,2790H734"/>
<line class="ln" x1="730" y1="2342" x2="730" y2="2732" marker-start="url(#ar)" marker-end="url(#ar)"/>
<line class="ln" x1="730" y1="2732" x2="730" y2="2790" marker-start="url(#ar)" marker-end="url(#ar)"/>
<text class="dn" font-size="8.5" transform="translate(725,2556) rotate(-90)" text-anchor="middle">2480</text>
<text class="dn" font-size="8.5" transform="translate(725,2763) rotate(-90)" text-anchor="middle">H</text>
<text class="lb" font-size="9.5" x="540" y="2313">16号球窝悬挂端</text>
<path class="ln" d="M538,2316H605L629,2342" marker-end="url(#ar)"/>
<text class="lb" font-size="8.5" x="500" y="2381">M8接计数器或直接接地</text>
<path class="ln" d="M500,2385H598L622,2356" marker-end="url(#ar)"/>
<rect class="ln" x="441" y="2761" width="84" height="25" rx="12"/>
<rect class="ln" x="446" y="2765" width="74" height="17" rx="8"/>
<path class="cl" d="M436,2773.5H530 M482,2755V2792"/>
<circle class="ln" cx="482" cy="2773.5" r="3"/>
<path class="ln" d="M443,2736V2757 M519,2736V2757 M530,2761H558 M530,2786H558"/>
<line class="ln" x1="443" y1="2739" x2="519" y2="2739" marker-start="url(#ar)" marker-end="url(#ar)"/>
<line class="ln" x1="555" y1="2761" x2="555" y2="2786" marker-start="url(#ar)" marker-end="url(#ar)"/>
<text class="dn" font-size="8.5" x="479" y="2735" text-anchor="middle">480</text>
<text class="dn" font-size="8.5" transform="translate(551,2774) rotate(-90)" text-anchor="middle">140</text>

<text class="cap" x="344" y="2814">220kV&#160;&#160;X型带间隙</text>

<!-- ================= SECTION 6 ================= -->
<!-- P10 144/320 photo -->
<path d="M150,2894L72,2966 M226,2895L304,2966" stroke="#c3ccce" stroke-width="4.5" fill="none"/>
<rect x="187" y="2875" width="10" height="15" rx="3" fill="#c2c6c0"/>
<rect x="148" y="2889" width="90" height="6" fill="url(#gm)"/>
<rect x="172" y="2895" width="38" height="28" fill="url(#gg)"/>
<g transform="translate(191,2922) scale(0.72,0.6)"><rect x="-50" y="0" width="100" height="55" fill="url(#pS)"/></g>
<path d="M206,2887L229,2956" stroke="#e6eaea" stroke-width="7" fill="none"/>
<g transform="translate(192,2980) scale(0.82,0.83)"><rect x="-50" y="0" width="100" height="124" fill="url(#pS)"/></g>
<ellipse cx="195" cy="2977" rx="133" ry="10" fill="none" stroke="#bcc6c9" stroke-width="13"/>
<ellipse cx="195" cy="2973" rx="133" ry="9" fill="none" stroke="#dce3e5" stroke-width="5"/>
<rect x="155" y="3092" width="75" height="16" fill="#b9c0c1"/>
<rect x="161" y="3085" width="63" height="33" fill="url(#gm)"/>
<rect x="172" y="3118" width="38" height="22" fill="url(#gg)"/>
<g transform="translate(192,3139) scale(0.88,0.875)"><rect x="-50" y="0" width="100" height="168" fill="url(#pS)"/></g>
<polygon points="140,3288 232,3288 237,3328 134,3328" fill="#ccd3d5"/>
<polygon points="134,3328 237,3328 237,3331 134,3331" fill="#9ea8aa"/>
<ellipse cx="187" cy="3306" rx="30" ry="9" fill="#d7ddde" stroke="#a7b0b2" stroke-width="1"/>
<rect x="170" y="3284" width="35" height="24" fill="url(#gm)"/>
<circle cx="160" cy="3302" r="2.5" fill="#9aa2a2"/><circle cx="214" cy="3302" r="2.5" fill="#9aa2a2"/><circle cx="187" cy="3315" r="2.5" fill="#9aa2a2"/>
<use href="#ri" x="153" y="3285"/><use href="#ri" x="230" y="3285"/><use href="#ri" x="145" y="3325"/><use href="#ri" x="227" y="3325"/>

<!-- D16 ring plan 144/320 -->
<use href="#ringp" transform="translate(456,3073) scale(0.88)"/>
<line class="ln" x1="378" y1="3142" x2="561" y2="2977" marker-start="url(#ar)" marker-end="url(#ar)"/>
<text class="dn" font-size="11" transform="translate(530,3006) rotate(-55)">Φ850</text>

<!-- BP5 144/320 base plan -->
<rect class="ln" x="485" y="3186" width="74" height="70" rx="6" stroke-width="1"/>
<g class="ln"><circle cx="494" cy="3194" r="3"/><circle cx="550" cy="3194" r="3"/><circle cx="494" cy="3249" r="3"/><circle cx="550" cy="3249" r="3"/></g>
<path class="ln" stroke-width="0.5" d="M488,3194h12M494,3188v12 M544,3194h12M550,3188v12 M488,3249h12M494,3243v12 M544,3249h12M550,3243v12"/>
<path class="ln" d="M520,3246l4,7"/>
<path class="ln" d="M556,3194H582 M556,3249H582 M562,3186H598 M562,3256H598 M494,3258V3279 M550,3258V3279 M485,3260V3296 M559,3260V3296"/>
<line class="ln" x1="579" y1="3194" x2="579" y2="3249" marker-start="url(#ar)" marker-end="url(#ar)"/>
<line class="ln" x1="595" y1="3186" x2="595" y2="3256" marker-start="url(#ar)" marker-end="url(#ar)"/>
<line class="ln" x1="494" y1="3276" x2="550" y2="3276" marker-start="url(#ar)" marker-end="url(#ar)"/>
<line class="ln" x1="485" y1="3293" x2="559" y2="3293" marker-start="url(#ar)" marker-end="url(#ar)"/>
<text class="dn" font-size="11" x="522" y="3272" text-anchor="middle">270</text>
<text class="dn" font-size="11" x="522" y="3289" text-anchor="middle">340</text>
<text class="dn" font-size="11" transform="translate(576,3222) rotate(-90)" text-anchor="middle">270</text>
<text class="dn" font-size="11" transform="translate(592,3222) rotate(-90)" text-anchor="middle">340</text>
<text class="lb" font-size="11" x="508" y="3176">4-Φ13</text>
<path class="ln" d="M506,3179H543 M512,3179L495,3193"/>
<text class="lb" font-size="11" x="429" y="3215">M12接地</text>
<path class="ln" d="M428,3219H482L522,3249"/>

<!-- D18 144/320 drawing -->
<line class="cl" x1="655" y1="2935" x2="655" y2="3290"/>
<rect class="lf" x="650" y="2942" width="10" height="14" rx="3"/>
<rect class="lf" x="652" y="2956" width="6" height="20"/>
<path class="ln" d="M600,2956H710 M600,2960H710 M602,2957Q590,2958 589,2964L567,3010 M602,2961Q594,2962 593,2966L571,3010 M708,2957Q720,2958 721,2964L743,3010 M708,2961Q716,2962 717,2966L739,3010"/>
<rect class="lf" x="633" y="2950" width="6" height="14"/><rect class="lf" x="671" y="2950" width="6" height="14"/>
<g transform="translate(655,2973) scale(0.55,0.7)"><rect x="-50" y="0" width="100" height="50" fill="url(#pE)"/></g>
<rect class="lf" x="566" y="3009" width="180" height="14" rx="7"/>
<g transform="translate(655,3024) scale(0.62,0.82)"><rect x="-50" y="0" width="100" height="99" fill="url(#pE)"/></g>
<rect class="lf" x="628" y="3105" width="54" height="5"/>
<rect class="lf" x="632" y="3110" width="46" height="10"/>
<rect class="lf" x="628" y="3120" width="54" height="5"/>
<rect class="lf" x="622" y="3102" width="4" height="26"/><rect class="lf" x="684" y="3102" width="4" height="26"/>
<rect class="lf" x="653" y="3100" width="4" height="28"/>
<g transform="translate(655,3128) scale(0.62,0.82)"><rect x="-50" y="0" width="100" height="156" fill="url(#pE)"/></g>
<rect class="lf" x="644" y="3256" width="22" height="10"/>
<rect class="lf" x="617" y="3266" width="72" height="7"/>
<path class="ln" d="M620.5,3259h5v7h-5z M630.5,3259h5v7h-5z M652.5,3259h5v7h-5z M674.5,3259h5v7h-5z M684.5,3259h5v7h-5z M621,3273h4v14h-4z M618,3276h10v7h-10z M685,3273h4v14h-4z M682,3276h10v7h-10z M631,3273h4v6h-4z M653,3273h4v6h-4z M675,3273h4v6h-4z"/>
<path class="ln" d="M700,2944H767 M690,3279H767"/>
<line class="ln" x1="763" y1="2944" x2="763" y2="3279" marker-start="url(#ar)" marker-end="url(#ar)"/>
<text class="dn" font-size="11" transform="translate(759,3125) rotate(-90)" text-anchor="middle">1620</text>

<text class="cap" x="347" y="3346" font-size="14.5">中性点用 144/320 型</text>
</svg>
</body></html>
